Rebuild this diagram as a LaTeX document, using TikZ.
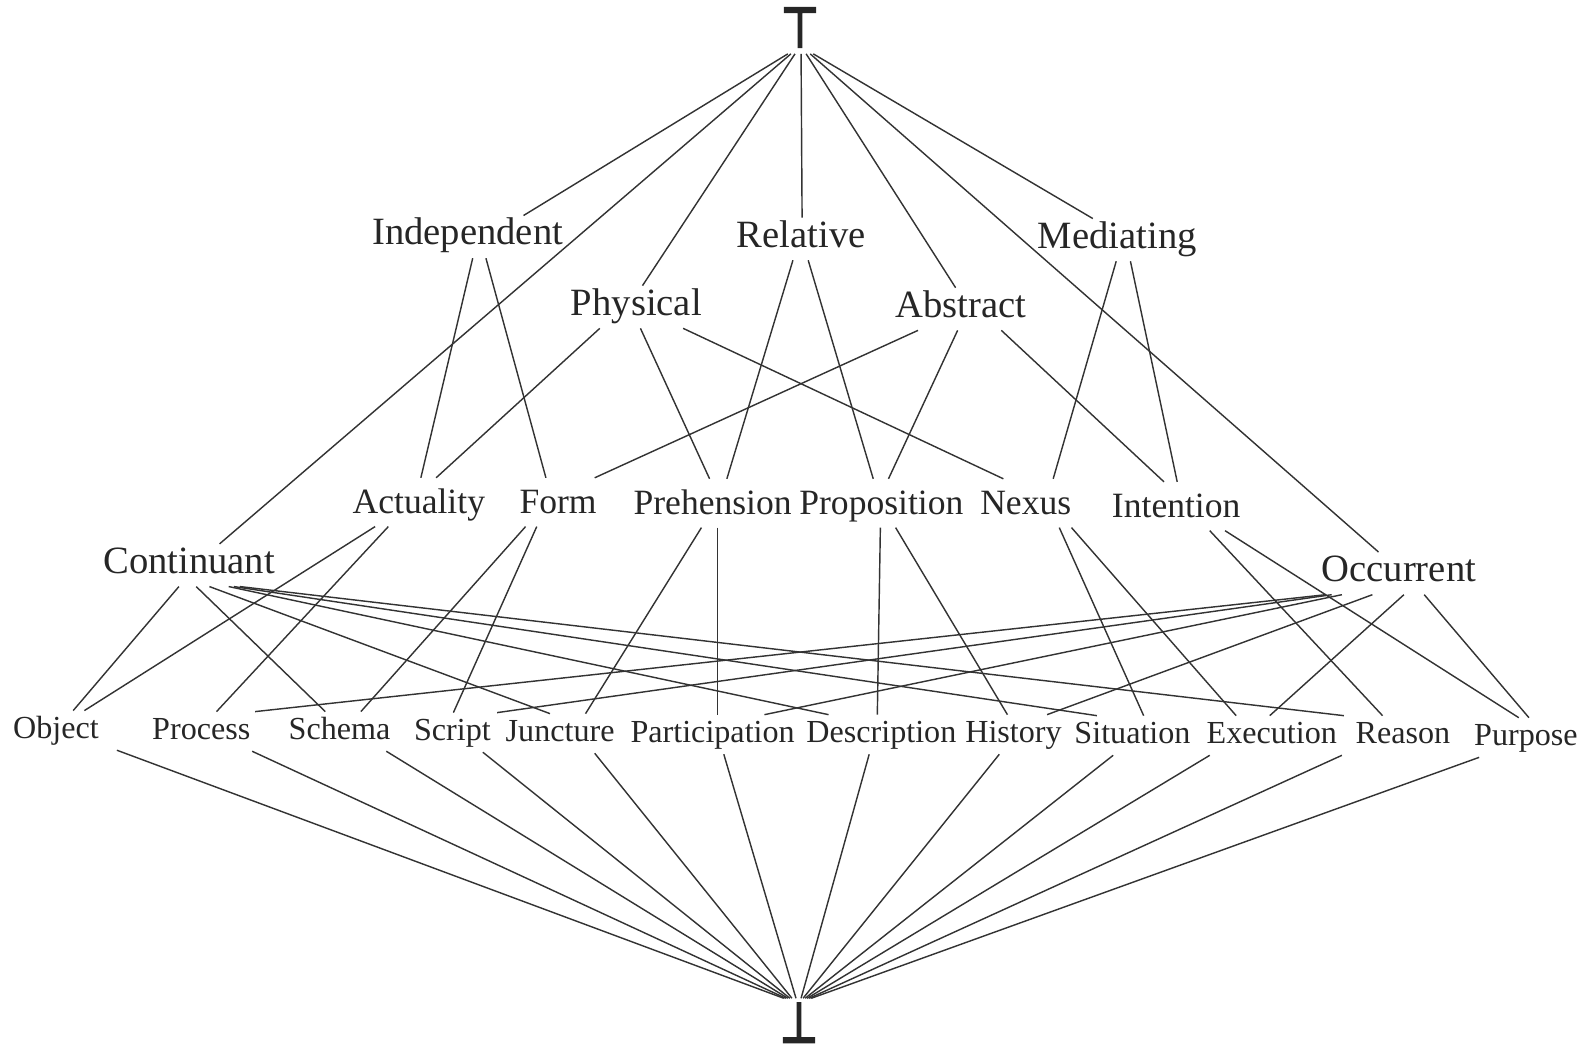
\documentclass[tikz,border=0pt]{standalone}
\usepackage{fontspec}
\setmainfont{Liberation Serif}
\newfontfamily\symfont[FakeBold=5]{DejaVu Sans}
\usepackage{tikz}

\tikzset{
  lab/.style={inner sep=0pt, text=black!85, anchor=base},
  toplab/.style={lab, font=\fontsize{19}{21}\selectfont, text height=13pt, text depth=5pt, outer sep=1.5pt},
  midlab/.style={lab, font=\fontsize{17.5}{20}\selectfont, text height=14pt, text depth=3pt, outer sep=3.5pt},
  botlab/.style={lab, font=\fontsize{15.8}{18}\selectfont, text height=11pt, text depth=3.5pt, outer sep=2.5pt},
  symlab/.style={lab, font=\fontsize{27}{30}\selectfont, text height=18pt, text depth=0pt, outer sep=3.5pt},
  edge/.style={draw=black!80, line width=0.7pt}
}

\begin{document}
\begin{tikzpicture}[x=0.5pt, y=-0.5pt]
        \useasboundingbox (0,0) rectangle (1568,1036);

        % Top and bottom
        \node[symlab] (top) at (787,46) {\scalebox{0.78}[1]{\symfont ⊤}};
        \node[symlab, text height=19.5pt, outer sep=2pt] (bot) at (786,1025) {\scalebox{0.78}[1]{\symfont ⊥}};

        % First level
        \node[toplab] (indep) at (460,241) {Independent};
        \node[toplab] (rel) at (788,243) {Relative};
        \node[toplab] (med) at (1099,244) {Mediating};
        \node[toplab] (phys) at (626,310) {Physical};
        \node[toplab] (abs) at (945,312) {Abstract};
        \node[toplab] (cont) at (186,564) {Continuant};
        \node[toplab] (occ) at (1376,572) {Occurrent};

        % Second level
        \node[midlab] (act) at (412,505) {Actuality};
        \node[midlab] (form) at (549,505) {Form};
        \node[midlab] (preh) at (701,506) {Prehension};
        \node[midlab] (prop) at (867,506) {Proposition};
        \node[midlab] (nexus) at (1009,506) {Nexus};
        \node[midlab] (inten) at (1157,509) {Intention};

        % Twelve leaf categories
        \node[botlab] (obj) at (55,726) {Object};
        \node[botlab] (proc) at (198,727) {Process};
        \node[botlab] (sche) at (334,727) {Schema};
        \node[botlab] (scri) at (445,728) {Script};
        \node[botlab] (junc) at (551,729) {Juncture};
        \node[botlab] (part) at (701,730) {Participation};
        \node[botlab] (desc) at (867,730) {Description};
        \node[botlab] (hist) at (997,730) {History};
        \node[botlab] (situ) at (1114,731) {Situation};
        \node[botlab] (exec) at (1251,731) {Execution};
        \node[botlab] (reas) at (1380,731) {Reason};
        \node[botlab] (purp) at (1501,733) {Purpose};

        % Links: parent/shift/child/shift
        \foreach \a/\sa/\b/\sb in {
            top/-12/indep/55, top/-9/cont/30, top/-5/phys/6, top/1/rel/1,
            top/6/abs/-5, top/10/occ/-20, top/13/med/-24,
            indep/5/act/2, indep/18/form/-12,
            rel/-8/preh/14, rel/7/prop/-8,
            med/-1/nexus/27, med/13/inten/1,
            phys/-36/act/17, phys/4/preh/-3, phys/46/nexus/-22,
            abs/-42/form/36, abs/-3/prop/7, abs/40/inten/-12,
            act/-43/obj/28, act/-30/proc/15,
            form/-32/sche/21, form/-21/scri/1,
            preh/-11/junc/25, preh/5/part/5,
            prop/-1/desc/-4, prop/14/hist/-6,
            nexus/33/situ/11, nexus/45/exec/-35,
            inten/33/reas/-20, inten/48/purp/-7,
            cont/-10/obj/17, cont/7/sche/-14, cont/20/junc/-10,
            cont/39/desc/-52, cont/44/situ/-35, cont/50/reas/-58,
            occ/-72/proc/53, occ/-66/scri/44, occ/-56/part/51,
            occ/-26/hist/33, occ/5/exec/-2, occ/25/purp/3,
            obj/60/bot/-15, proc/50/bot/-13, sche/46/bot/-11,
            scri/30/bot/-9, junc/34/bot/-7, part/11/bot/-3,
            desc/-12/bot/2, hist/-14/bot/4, situ/-19/bot/6,
            exec/-61/bot/8, reas/-60/bot/10, purp/-46/bot/12}
            \draw[edge] ([xshift=\sa*0.5pt]\a.south) -- ([xshift=\sb*0.5pt]\b.north);
\end{tikzpicture}
\end{document}
